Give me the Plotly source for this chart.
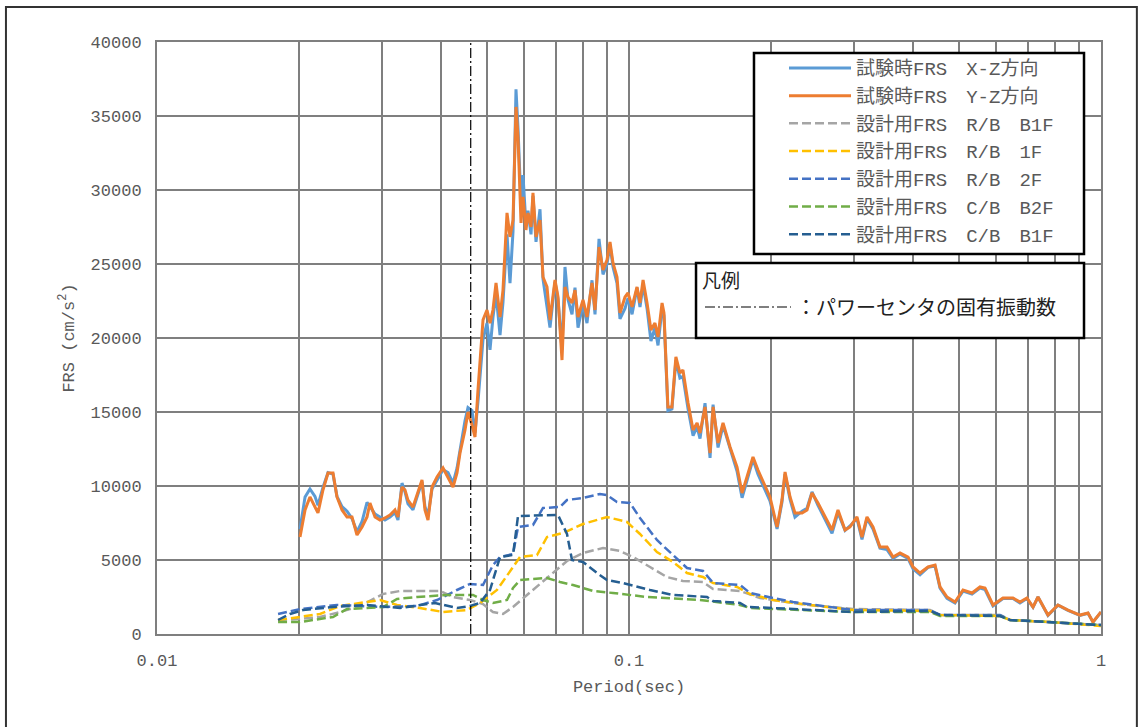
import plotly.graph_objects as go

# ---------------- data ----------------
test_period = [
    0.02009, 0.02059, 0.02109, 0.02161, 0.02193, 0.02247, 0.02303, 0.02360, 0.02406, 0.02466,
    0.02527, 0.02589, 0.02653, 0.02719, 0.02786, 0.02826, 0.02897, 0.02968, 0.03041, 0.03116,
    0.03193, 0.03240, 0.03304, 0.03353, 0.03402, 0.03486, 0.03572, 0.03643, 0.03696, 0.03751,
    0.03825, 0.03920, 0.04036, 0.04136, 0.04238, 0.04321, 0.04385, 0.04493, 0.04559, 0.04649,
    0.04718, 0.04787, 0.04906, 0.05002, 0.05076, 0.05150, 0.05227, 0.05330, 0.05408, 0.05515,
    0.05596, 0.05679, 0.05762, 0.05819, 0.05905, 0.05962, 0.06050, 0.06110, 0.06200, 0.06260,
    0.06353, 0.06478, 0.06573, 0.06703, 0.06802, 0.06970, 0.07073, 0.07212, 0.07318, 0.07426,
    0.07573, 0.07684, 0.07798, 0.07990, 0.08147, 0.08349, 0.08472, 0.08639, 0.08809, 0.08982,
    0.09115, 0.09249, 0.09431, 0.09570, 0.09807, 0.09951, 0.1015, 0.1040, 0.1055, 0.1071,
    0.1092, 0.1113, 0.1135, 0.1152, 0.1175, 0.1186, 0.1209, 0.1233, 0.1257, 0.1282,
    0.1301, 0.1334, 0.1367, 0.1394, 0.1414, 0.1449, 0.1485, 0.1507, 0.1544, 0.1582,
    0.1637, 0.1694, 0.1736, 0.1778, 0.1831, 0.1876, 0.1942, 0.1989, 0.2059, 0.2109,
    0.2141, 0.2194, 0.2247, 0.2326, 0.2383, 0.2442, 0.2514, 0.2601, 0.2692, 0.2772,
    0.2869, 0.2939, 0.3041, 0.3116, 0.3193, 0.3288, 0.3402, 0.3521, 0.3626, 0.3752,
    0.3901, 0.3997, 0.4136, 0.4301, 0.4450, 0.4560, 0.4718, 0.4906, 0.5101, 0.5330,
    0.5542, 0.5679, 0.5904, 0.6199, 0.6509, 0.6735, 0.6968, 0.7177, 0.7354, 0.7721,
    0.8107, 0.8513, 0.9026, 0.9386, 0.9618, 1.0,
]
frs_test_xz = [
    7100, 9250, 9800, 9300, 8700, 9900, 10900, 10800, 9300, 8600,
    8300, 7800, 6900, 7600, 8900, 8600, 8100, 7900, 7700, 7900,
    8200, 7700, 10200, 9600, 8800, 8400, 9400, 10300, 8600, 8000,
    9800, 10400, 11100, 10900, 10200, 11200, 12500, 14400, 15300, 15100,
    13600, 15700, 19900, 21000, 19200, 21400, 23000, 20200, 22400, 27000,
    23700, 27200, 36800, 34200, 29000, 31000, 27600, 28600, 27000, 29600,
    26500, 28700, 24000, 22200, 20700, 23800, 22600, 19200, 24800, 22600,
    21600, 23400, 20700, 22300, 21000, 23900, 21600, 26700, 24300, 25000,
    26300, 24800, 23700, 21300, 22000, 22700, 21600, 23400, 22100, 23600,
    22000, 19800, 20700, 19500, 22000, 21500, 15100, 15200, 18500, 17300,
    17400, 15200, 13400, 14000, 13200, 15600, 11900, 15500, 12600, 14100,
    12500, 11000, 9200, 10300, 11800, 10800, 9700, 9000, 7100, 8900,
    10800, 9100, 7900, 8300, 8500, 9600, 8700, 7800, 6800, 8200,
    7000, 7300, 7800, 6400, 7800, 7100, 5800, 5700, 5100, 5400,
    5100, 4400, 4000, 4500, 4600, 3100, 2400, 2100, 2900, 2700,
    3100, 3000, 1900, 2400, 2400, 2100, 2400, 1800, 2500, 1250,
    1950, 1600, 1260, 1400, 800, 1480,
]
frs_test_yz = [
    6550, 8380, 9260, 8580, 8180, 9730, 10880, 10880, 9260, 8380,
    7910, 7910, 6690, 7230, 7910, 8850, 7910, 7700, 7840, 8040,
    8380, 7910, 9930, 9730, 9050, 8580, 9600, 10410, 8380, 7700,
    9930, 10610, 11220, 10610, 9930, 10880, 12230, 13780, 15000, 14120,
    13310, 16490, 21220, 21890, 21010, 21890, 23720, 21420, 23240, 28450,
    26830, 27970, 35610, 33580, 27770, 29530, 27300, 28450, 27500, 29800,
    26830, 27970, 24120, 23450, 21220, 23920, 22770, 18510, 23450, 22770,
    22370, 23240, 21420, 22570, 21420, 23720, 21890, 26150, 24600, 25270,
    26490, 25070, 24120, 21690, 22770, 23040, 22100, 23450, 22370, 23920,
    22370, 20540, 21010, 20070, 22370, 21690, 15340, 15340, 18720, 17640,
    17840, 15610, 13780, 14260, 13580, 15340, 12230, 15340, 12910, 14260,
    12640, 11280, 9530, 10610, 11960, 11080, 9930, 9260, 7230, 9050,
    10950, 9260, 8180, 8180, 8380, 9530, 8850, 7910, 7030, 8380,
    7030, 7230, 7910, 6550, 7910, 7230, 5880, 5880, 5200, 5470,
    5200, 4530, 4120, 4530, 4660, 3180, 2500, 2160, 2970, 2770,
    3180, 3110, 1960, 2430, 2430, 2160, 2430, 1820, 2500, 1280,
    1960, 1620, 1280, 1420, 810, 1490,
]

rb_b1f_period = [0.01805, 0.02009, 0.02215, 0.02442, 0.02692, 0.03012, 0.03272, 0.03977, 0.04238,
                 0.04604, 0.04906, 0.05150, 0.05408, 0.05679, 0.06080, 0.06703, 0.07390, 0.07990,
                 0.08809, 0.09570, 0.1020, 0.1108, 0.1203, 0.1301, 0.1435, 0.1507, 0.1719, 0.1895,
                 0.2303, 0.2982, 0.4343, 0.4560, 0.6109, 0.6415, 0.7797, 1.0]
rb_b1f_frs = [946, 1014, 1149, 1486, 1892, 2703, 2906, 2906, 2500,
              2297, 2027, 1487, 1351, 1824, 2635, 3784, 4933, 5473,
              5811, 5608, 5203, 4527, 3851, 3581, 3514, 3041, 2906, 2433,
              2027, 1689, 1622, 1284, 1284, 946, 811, 608]

rb_1f_period = [0.01805, 0.02215, 0.02442, 0.02968, 0.03225, 0.03607, 0.04036, 0.04537, 0.04834,
                0.05252, 0.05679, 0.05876, 0.06384, 0.06703, 0.07247, 0.07990, 0.08982, 0.09903,
                0.1055, 0.1146, 0.1239, 0.1327, 0.1435, 0.1507, 0.1694, 0.1805, 0.2019, 0.2418,
                0.2982, 0.4343, 0.4560, 0.6109, 0.6415, 0.7797, 1.0]
rb_1f_frs = [946, 1351, 1892, 2297, 1960, 1757, 1487, 1622, 2095,
             2973, 4527, 5203, 5338, 6554, 6825, 7433, 7906, 7568,
             6757, 5541, 4865, 4122, 3851, 3446, 3176, 2703, 2297, 1960,
             1622, 1554, 1284, 1216, 946, 811, 541]

rb_2f_period = [0.01805, 0.02009, 0.02406, 0.03012, 0.03555, 0.03920, 0.04321, 0.04604, 0.04906,
                0.05150, 0.05330, 0.05679, 0.05819, 0.06260, 0.06573, 0.07142, 0.07390, 0.07990,
                0.08681, 0.08982, 0.09431, 0.1005, 0.1055, 0.1146, 0.1239, 0.1327, 0.1435, 0.1507,
                0.1719, 0.1805, 0.2019, 0.2226, 0.2982, 0.4343, 0.4560, 0.6109, 0.6415, 0.7797, 1.0]
rb_2f_frs = [1351, 1689, 1960, 1824, 1892, 2297, 2973, 3379, 3311,
             4662, 5203, 5406, 7230, 7365, 8514, 8581, 9054, 9190,
             9460, 9392, 8919, 8852, 7838, 6352, 5338, 4460, 4257, 3446,
             3311, 2770, 2433, 2162, 1622, 1622, 1284, 1284, 946, 811, 608]

cb_b2f_period = [0.01805, 0.02009, 0.02360, 0.02527, 0.03012, 0.03225, 0.03555, 0.04115, 0.04672,
                 0.04906, 0.05150, 0.05515, 0.05679, 0.05876, 0.06703, 0.07142, 0.07610, 0.08390,
                 0.09249, 0.1092, 0.1414, 0.1719, 0.1805, 0.2303, 0.2982, 0.4343, 0.4560, 0.6109,
                 0.6415, 0.7797, 1.0]
cb_b2f_frs = [811, 811, 1149, 1689, 1824, 2365, 2500, 2635, 2635,
              2297, 2095, 2297, 3108, 3649, 3784, 3514, 3311, 2906,
              2770, 2500, 2297, 1960, 1757, 1622, 1487, 1487, 1216, 1216,
              946, 811, 608]

cb_b1f_period = [0.01805, 0.01913, 0.02039, 0.02360, 0.02786, 0.03272, 0.03881, 0.04321, 0.04604,
                 0.04834, 0.05076, 0.05330, 0.05679, 0.05819, 0.07073, 0.07390, 0.07573, 0.07990,
                 0.08554, 0.08982, 0.09712, 0.1108, 0.1239, 0.1463, 0.1507, 0.1719, 0.1778, 0.2019,
                 0.2982, 0.4343, 0.4560, 0.6109, 0.6415, 0.7797, 1.0]
cb_b1f_frs = [946, 1351, 1622, 1824, 1960, 1757, 2095, 1757, 1892,
              2095, 2973, 5203, 5338, 7973, 8041, 6757, 5000, 4865,
              4122, 3649, 3446, 2973, 2635, 2500, 2230, 2095, 1824, 1757,
              1487, 1554, 1284, 1216, 946, 811, 608]

natural_period = 0.0462

x_major_ticks = [0.01, 0.1, 1]
x_major_labels = ["0.01", "0.1", "1"]
x_minor_ticks = [0.02, 0.03, 0.04, 0.05, 0.06, 0.07, 0.08, 0.09,
                 0.2, 0.3, 0.4, 0.5, 0.6, 0.7, 0.8, 0.9]

names = [
    "試験時FRS　X-Z方向",
    "試験時FRS　Y-Z方向",
    "設計用FRS　R/B　B1F",
    "設計用FRS　R/B　1F",
    "設計用FRS　R/B　2F",
    "設計用FRS　C/B　B2F",
    "設計用FRS　C/B　B1F",
]
legend2_label = "：パワーセンタの固有振動数"
legend2_title = "凡例"

# ---------------- figure ----------------
FONT = "Liberation Mono, Noto Sans CJK JP, monospace"
TXT = "#595959"
DASH = "9px,4px"

fig = go.Figure()

series = [
    (test_period, frs_test_xz, "#5B9BD5", 3, "solid"),
    (test_period, frs_test_yz, "#ED7D31", 3, "solid"),
    (rb_b1f_period, rb_b1f_frs, "#A5A5A5", 2.5, DASH),
    (rb_1f_period, rb_1f_frs, "#FFC000", 2.5, DASH),
    (rb_2f_period, rb_2f_frs, "#4472C4", 2.5, DASH),
    (cb_b2f_period, cb_b2f_frs, "#70AD47", 2.5, DASH),
    (cb_b1f_period, cb_b1f_frs, "#255E91", 2.5, DASH),
]
for i, (xs, ys, col, w, dash) in enumerate(series):
    fig.add_trace(go.Scatter(
        x=xs, y=ys, mode="lines", name=names[i],
        line=dict(color=col, width=w, dash=dash),
        legendgroup=f"g{i}", legend="legend",
    ))

fig.add_trace(go.Scatter(
    x=[natural_period, natural_period], y=[0, 40000], mode="lines",
    name=legend2_label, line=dict(color="black", width=1.2, dash="10px,3px,2px,3px"),
    legend="legend2",
))

grid = "#7f7f7f"
fig.update_layout(
    width=1141, height=727,
    margin=dict(l=157, r=40, t=42, b=93),
    paper_bgcolor="white", plot_bgcolor="white",
    font=dict(family=FONT, color=TXT, size=17),
    xaxis=dict(
        type="log", range=[-2, 0],
        tickmode="array", tickvals=x_major_ticks, ticktext=x_major_labels,
        showgrid=True, gridcolor=grid, gridwidth=2,
        minor=dict(tickmode="array", tickvals=x_minor_ticks, showgrid=True,
                   gridcolor=grid, gridwidth=2, ticks=""),
        showline=True, linecolor=grid, linewidth=2, mirror=True,
        ticks="", ticklabelstandoff=10,
        tickfont=dict(family=FONT, size=17, color=TXT),
        title=dict(text="Period(sec)", font=dict(family=FONT, size=17, color=TXT), standoff=10),
        zeroline=False,
    ),
    yaxis=dict(
        range=[0, 40000], dtick=5000, tickformat="d",
        showgrid=True, gridcolor=grid, gridwidth=2,
        showline=True, linecolor=grid, linewidth=2, mirror=True,
        ticks="", ticklabelstandoff=10,
        tickfont=dict(family=FONT, size=17, color=TXT),
        title=dict(text="FRS (cm/s<sup>2</sup>)", font=dict(family=FONT, size=17, color=TXT), standoff=12),
        zeroline=False,
    ),
    legend=dict(
        x=0.6642, xanchor="left", y=0.988, yanchor="top",
        bgcolor="rgba(0,0,0,0)", borderwidth=0,
        font=dict(family=FONT, size=19, color=TXT),
        tracegroupgap=0, itemwidth=62,
    ),
    legend2=dict(
        x=0.5752, xanchor="left", y=0.627, yanchor="top",
        bgcolor="rgba(0,0,0,0)", borderwidth=0,
        font=dict(family=FONT, size=20, color="#222222"),
        title=dict(text=legend2_title, font=dict(family=FONT, size=19, color="#222222")),
        itemwidth=86,
    ),
    shapes=[
        # outer frame of the figure
        dict(type="rect", xref="paper", yref="paper",
             x0=-0.160, x1=1.038, y0=-0.25, y1=1.059,
             line=dict(color="#333333", width=2), layer="below"),
        # legend boxes
        dict(type="rect", xref="paper", yref="paper",
             x0=0.6324, x1=0.982, y0=0.6419, y1=0.9814,
             line=dict(color="black", width=2.5), fillcolor="white", layer="above"),
        dict(type="rect", xref="paper", yref="paper",
             x0=0.571, x1=0.982, y0=0.500, y1=0.6267,
             line=dict(color="black", width=2.5), fillcolor="white", layer="above"),
    ],
)

fig.write_html("out.html", config={"displayModeBar": False},
               post_script="document.body.style.margin='0px';")
